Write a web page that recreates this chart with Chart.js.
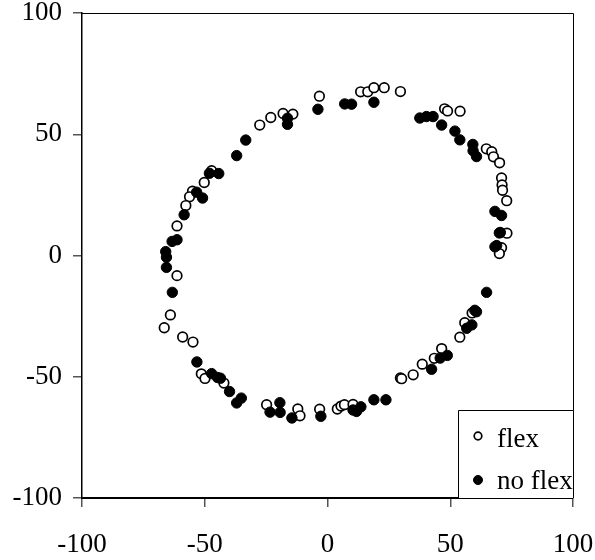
<!DOCTYPE html>
<html>
<head>
<meta charset="utf-8">
<script src="https://cdn.jsdelivr.net/npm/chart.js@4"></script>
<style>
  html, body { margin: 0; padding: 0; background: #fff; }
  #wrap { width: 595px; height: 560px; }
</style>
</head>
<body>
<div id="wrap"><canvas id="chart" width="595" height="560"></canvas></div>
<script>
// Axis tick values (both axes share the same range)
const axisTicks = [-100, -50, 0, 50, 100];
const seriesNames = ['flex', 'no flex'];

// "flex" series (open circles)
const flexX = [-3.3, 13.5, 16.4, 18.9, 23.1, 29.7, -18.1, -14.1, -23.1, -27.6,
  47.7, 48.9, 54.0, 64.7, 66.9, 67.6, 70.1, 70.9, 71.1, 71.3, 73.0, 73.1, 70.9, 70.0,
  -47.2, -50.2, -55.0, -56.2, -57.7, -61.3, -61.3, -64.0, -66.5, -59.0, -54.8,
  -51.4, -49.9, -42.2, -24.8, -12.1, -11.2, -3.2, 4.0, 5.5, 6.9, 10.4,
  29.7, 30.2, 34.9, 38.6, 43.5, 46.5, 53.9, 55.9, 58.9];
const flexY = [65.7, 67.5, 67.5, 69.2, 69.2, 67.6, 58.6, 58.3, 56.9, 53.8,
  60.5, 59.6, 59.5, 44.0, 42.8, 40.7, 38.2, 32.0, 29.1, 26.9, 22.6, 9.2, 3.2, 0.8,
  35.0, 30.1, 26.5, 24.2, 20.6, 12.2, -8.3, -24.5, -29.8, -33.6, -35.7,
  -48.8, -50.7, -52.6, -61.5, -63.3, -66.1, -63.4, -63.3, -62.1, -61.5, -61.4,
  -50.5, -50.8, -49.2, -44.8, -42.4, -38.4, -33.7, -27.7, -23.7];

// "no flex" series (filled circles)
const noFlexX = [-3.9, 7.0, 9.8, 18.9, -16.3, -16.3, -33.3, -37.0,
  37.6, 40.3, 43.0, 46.5, 51.9, 53.9, 59.2, 59.3, 60.7,
  68.2, 70.9, 70.0, 70.4, 68.2, 68.9,
  -48.1, -44.3, -53.3, -50.9, -58.4, -63.3, -61.3, -65.9, -65.6, -65.6, -63.2,
  -53.2, -47.2, -44.8, -43.6, -39.9, -37.0, -35.1, -23.4, -19.4, -19.3, -14.5,
  -2.7, 10.4, 11.8, 13.6, 18.9, 23.8,
  42.4, 45.9, 48.8, 56.7, 58.8, 60.0, 60.7, 64.8];
const noFlexY = [60.3, 62.5, 62.4, 63.2, 56.6, 54.1, 47.6, 41.2,
  56.7, 57.3, 57.3, 53.8, 51.3, 47.7, 45.8, 43.2, 40.8,
  18.2, 16.5, 9.3, 9.5, 3.6, 4.1,
  33.9, 33.8, 26.1, 23.7, 16.8, 5.8, 6.5, 1.6, -0.7, -4.9, -15.2,
  -43.9, -48.7, -50.3, -50.6, -56.1, -60.8, -58.8, -64.6, -60.7, -64.7, -67.0,
  -66.3, -63.7, -64.3, -62.4, -59.5, -59.5,
  -46.9, -42.3, -41.2, -30.0, -28.6, -22.6, -23.2, -15.2];

const toPoints = (xs, ys) => xs.map((x, i) => ({ x: x, y: ys[i] }));

const serif = '"Liberation Serif", "Times New Roman", serif';
const tickFont = { family: serif, size: 27 };

const openStyle = { radius: 4.8, border: 1.7, fill: '#ffffff', stroke: '#000000' };
const solidStyle = { radius: 5.2, border: 1, fill: '#000000', stroke: '#000000' };

// Frame on top/right and the boxed legend in the lower-right corner
const frameAndLegend = {
  id: 'frameAndLegend',
  afterDraw(chart) {
    const { ctx, chartArea: a } = chart;
    ctx.save();
    ctx.strokeStyle = '#000';
    ctx.lineWidth = 1;
    ctx.beginPath();
    ctx.moveTo(a.left, a.top + 0.5);
    ctx.lineTo(a.right + 0.5, a.top + 0.5);
    ctx.lineTo(a.right + 0.5, a.bottom);
    ctx.stroke();

    // legend box
    const bx = 458.5, by = 410.5;
    ctx.fillStyle = '#fff';
    ctx.fillRect(bx, by, a.right + 0.5 - bx, a.bottom - by);
    ctx.beginPath();
    ctx.moveTo(bx, a.bottom);
    ctx.lineTo(bx, by);
    ctx.lineTo(a.right + 0.5, by);
    ctx.lineTo(a.right + 0.5, a.bottom);
    ctx.stroke();

    const rows = [
      { label: seriesNames[0], cy: 436, base: 447, style: { radius: 3.8, border: 1.7, fill: '#fff', stroke: '#000' } },
      { label: seriesNames[1], cy: 480, base: 489, style: { radius: 4.5, border: 1, fill: '#000', stroke: '#000' } }
    ];
    ctx.font = '27px ' + serif;
    ctx.textAlign = 'left';
    ctx.textBaseline = 'alphabetic';
    rows.forEach(r => {
      ctx.beginPath();
      ctx.arc(478, r.cy, r.style.radius, 0, Math.PI * 2);
      ctx.fillStyle = r.style.fill;
      ctx.fill();
      ctx.lineWidth = r.style.border;
      ctx.strokeStyle = r.style.stroke;
      ctx.stroke();
      ctx.fillStyle = '#000';
      ctx.fillText(r.label, 497, r.base);
    });
    ctx.restore();
  }
};

new Chart(document.getElementById('chart'), {
  type: 'scatter',
  data: {
    datasets: [
      {
        label: seriesNames[0],
        data: toPoints(flexX, flexY),
        pointRadius: openStyle.radius,
        pointBorderWidth: openStyle.border,
        pointBackgroundColor: openStyle.fill,
        pointBorderColor: openStyle.stroke,
        order: 2
      },
      {
        label: seriesNames[1],
        data: toPoints(noFlexX, noFlexY),
        pointRadius: solidStyle.radius,
        pointBorderWidth: solidStyle.border,
        pointBackgroundColor: solidStyle.fill,
        pointBorderColor: solidStyle.stroke,
        order: 1
      }
    ]
  },
  options: {
    responsive: false,
    animation: false,
    devicePixelRatio: 1,
    layout: { padding: { top: 13, right: 22, left: 0, bottom: 0 } },
    plugins: { legend: { display: false }, tooltip: { enabled: false } },
    scales: {
      x: {
        type: 'linear',
        min: -100, max: 100,
        afterBuildTicks: s => { s.ticks = axisTicks.map(v => ({ value: v })); },
        afterFit: s => { s.height = 62; s.paddingLeft = 0; s.paddingRight = 0; },
        grid: { drawOnChartArea: false, drawTicks: true, tickLength: 9, color: '#555', lineWidth: 1.5 },
        border: { display: true, color: '#000', width: 2 },
        ticks: { font: tickFont, color: '#000', padding: 22, maxRotation: 0, autoSkip: false }
      },
      y: {
        type: 'linear',
        min: -100, max: 100,
        afterBuildTicks: s => { s.ticks = axisTicks.map(v => ({ value: v })); },
        afterFit: s => { s.width = 82; s.paddingTop = 0; s.paddingBottom = 0; },
        grid: { drawOnChartArea: false, drawTicks: true, tickLength: 9, color: '#555', lineWidth: 1.5 },
        border: { display: true, color: '#000', width: 1.5 },
        ticks: { font: tickFont, color: '#000', padding: 11, autoSkip: false }
      }
    }
  },
  plugins: [frameAndLegend]
});
</script>
</body>
</html>
